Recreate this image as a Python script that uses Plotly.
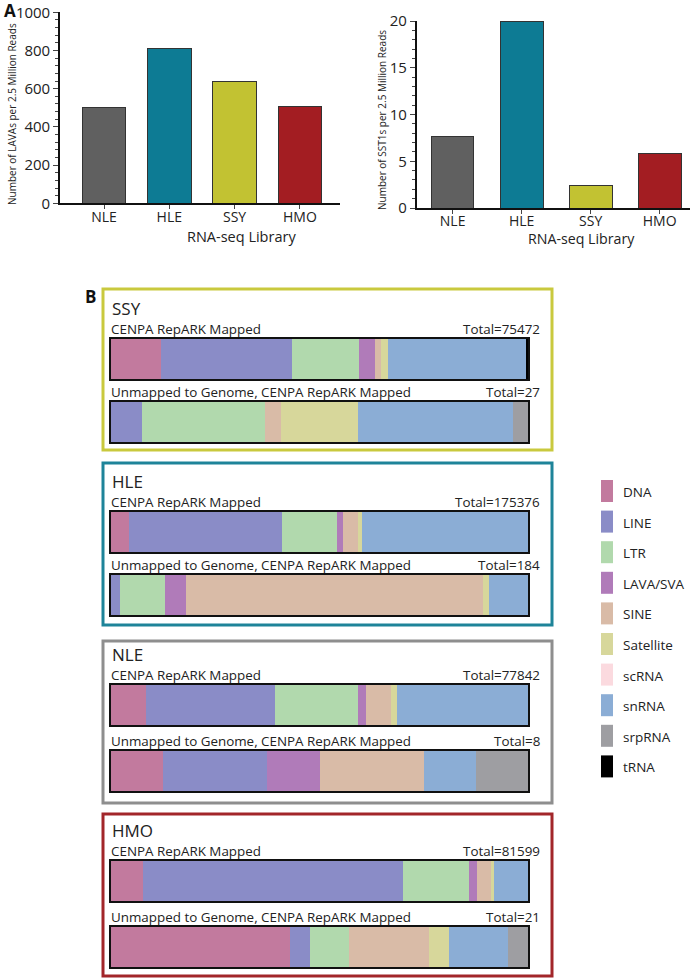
import plotly.graph_objects as go

# ---------------- data ----------------
libraries = ["NLE", "HLE", "SSY", "HMO"]
lava_per_2_5M = [501, 809, 638, 509]
sst1_per_2_5M = [7.7, 20.0, 2.4, 5.8]
library_colors = ["#606060", "#0d7b94", "#c2c232", "#a31d22"]

repeat_classes = ["DNA", "LINE", "LTR", "LAVA/SVA", "SINE", "Satellite",
                  "scRNA", "snRNA", "srpRNA", "tRNA"]
class_colors = ["#c27a9e", "#8a8cc7", "#b1d9ad", "#b07bb9", "#d9bba7",
                "#d7d79b", "#fbdadf", "#8badd5", "#9e9ea2", "#000000"]

panel_b_libraries = ["SSY", "HLE", "NLE", "HMO"]
box_colors = ["#c9c93e", "#1e8499", "#8e8e8e", "#a2262a"]
mapped_totals = [75472, 175376, 77842, 81599]
unmapped_totals = [27, 184, 8, 21]

# percent of reads per repeat class (CENPA RepARK mapped)
ssy_mapped = [12.0, 31.4, 16.0, 3.8, 1.6, 1.6, 0, 33.2, 0, 0.4]
hle_mapped = [4.2, 36.7, 13.2, 1.6, 3.6, 0.8, 0, 39.9, 0, 0]
nle_mapped = [8.5, 30.9, 19.8, 2.0, 5.9, 1.6, 0, 31.3, 0, 0]
hmo_mapped = [7.7, 62.3, 15.8, 2.0, 3.4, 0.6, 0, 8.2, 0, 0]

# counts per repeat class (unmapped to genome, CENPA RepARK mapped)
ssy_unmapped = [0, 2, 8, 0, 1, 5, 0, 10, 1, 0]
hle_unmapped = [0, 4, 20, 9, 131, 3, 0, 17, 0, 0]
nle_unmapped = [1, 2, 0, 1, 2, 0, 0, 1, 1, 0]
hmo_unmapped = [9, 1, 2, 0, 4, 1, 0, 3, 1, 0]

mapped_rows = [ssy_mapped, hle_mapped, nle_mapped, hmo_mapped]
unmapped_rows = [ssy_unmapped, hle_unmapped, nle_unmapped, hmo_unmapped]

# ---------------- layout helpers ----------------
W, H = 690, 980
FONT = "Open Sans, Lato, sans-serif"


def fx(x):
    return x / W


def fy(y):
    return 1 - y / H


fig = go.Figure()
layout = dict(
    width=W, height=H,
    margin=dict(l=0, r=0, t=0, b=0, pad=0, autoexpand=False),
    paper_bgcolor="white", plot_bgcolor="white",
    showlegend=False, barmode="stack",
    font=dict(family=FONT, color="#222"),
)
annotations = []
shapes = []

# ---------------- panel A ----------------
fig.add_trace(go.Bar(x=libraries, y=lava_per_2_5M, width=0.67,
                     marker=dict(color=library_colors, line=dict(color="#333", width=1)),
                     xaxis="x", yaxis="y"))
fig.add_trace(go.Bar(x=libraries, y=sst1_per_2_5M, width=0.62,
                     marker=dict(color=library_colors, line=dict(color="#333", width=1)),
                     xaxis="x2", yaxis="y2"))

axis_line = dict(showline=True, linecolor="#111", linewidth=1.6, showgrid=False,
                 zeroline=False, fixedrange=True, automargin=False)
layout["xaxis"] = dict(axis_line, domain=[fx(60), fx(340)], range=[-0.674, 3.614],
                       anchor="y", ticks="outside", ticklen=4, tickwidth=1.4,
                       ticklabelstandoff=-4,
                       tickfont=dict(size=14, color="#222"))
layout["yaxis"] = dict(axis_line, domain=[fy(203.3), fy(12.3)], range=[0, 1000],
                       anchor="x", tickvals=[0, 200, 400, 600, 800, 1000],
                       ticks="outside", ticklen=5, tickwidth=1.4,
                       minor=dict(dtick=40, ticks="outside", ticklen=3, tickwidth=1),
                       tickfont=dict(size=15, color="#222"))
layout["xaxis2"] = dict(axis_line, domain=[fx(416.7), fx(690)], range=[-0.52, 3.44],
                        anchor="y2", ticks="outside", ticklen=4, tickwidth=1.4,
                        ticklabelstandoff=-5,
                        tickfont=dict(size=14, color="#222"))
layout["yaxis2"] = dict(axis_line, domain=[fy(208), fy(21)], range=[0, 20],
                        anchor="x2", tickvals=[0, 5, 10, 15, 20],
                        ticks="outside", ticklen=5, tickwidth=1.4,
                        minor=dict(dtick=1, ticks="outside", ticklen=3, tickwidth=1),
                        tickfont=dict(size=15, color="#222"))

annotations += [
    dict(text="<b>A</b>", x=fx(2), y=fy(10), xanchor="left", yanchor="middle",
         font=dict(size=17, color="#111")),
    dict(text="Number of LAVAs per 2.5 Million Reads", x=fx(12), y=fy(114),
         textangle=-90, xanchor="center", yanchor="middle", font=dict(size=10)),
    dict(text="RNA-seq Library", x=fx(241), y=fy(236), xanchor="center",
         yanchor="middle", font=dict(size=14.5)),
    dict(text="Number of SST1s per 2.5 Million Reads", x=fx(382), y=fy(120),
         textangle=-90, xanchor="center", yanchor="middle", font=dict(size=10)),
    dict(text="RNA-seq Library", x=fx(581), y=fy(238.5), xanchor="center",
         yanchor="middle", font=dict(size=14.2)),
    dict(text="<b>B</b>", x=fx(83), y=fy(296), xanchor="left", yanchor="middle",
         font=dict(size=17, color="#111")),
]

# ---------------- panel B ----------------
boxes = [(289, 450), (463, 625), (641, 803), (814, 976)]
bar_tops = [(339, 402), (512, 575), (685, 751), (861, 927)]
BAR_H = 40
BAR_X0, BAR_X1 = 111, 528

ax = 3
for i, lib in enumerate(panel_b_libraries):
    top, bottom = boxes[i]
    shapes.append(dict(type="rect", xref="paper", yref="paper",
                       x0=fx(103), x1=fx(552), y0=fy(bottom), y1=fy(top),
                       line=dict(color=box_colors[i], width=3)))
    m_top, u_top = bar_tops[i]
    annotations.append(dict(text=lib, x=fx(110), y=fy(m_top - 31), xanchor="left",
                            yanchor="middle", font=dict(size=17)))
    for j, (row, total, label, ytop) in enumerate([
            (mapped_rows[i], mapped_totals[i], "CENPA RepARK Mapped", m_top),
            (unmapped_rows[i], unmapped_totals[i],
             "Unmapped to Genome, CENPA RepARK Mapped", u_top)]):
        xa, ya = f"x{ax}", f"y{ax}"
        for c, val in enumerate(row):
            if val <= 0:
                continue
            fig.add_trace(go.Bar(x=[val], y=[0], orientation="h", width=1,
                                 marker=dict(color=class_colors[c], line=dict(width=0)),
                                 name=repeat_classes[c], xaxis=xa, yaxis=ya))
        frame = dict(showline=True, mirror=True, linecolor="#111", linewidth=2,
                     showgrid=False, zeroline=False, showticklabels=False,
                     ticks="", fixedrange=True, automargin=False)
        layout[f"xaxis{ax}"] = dict(frame, domain=[fx(BAR_X0), fx(BAR_X1)],
                                    range=[0, sum(row)], anchor=ya)
        layout[f"yaxis{ax}"] = dict(frame, domain=[fy(ytop + BAR_H), fy(ytop)],
                                    range=[-0.5, 0.5], anchor=xa)
        annotations.append(dict(text=label, x=fx(109), y=fy(ytop - 10.5),
                                xanchor="left", yanchor="middle", font=dict(size=13.4)))
        annotations.append(dict(text=f"Total={total}", x=fx(542), y=fy(ytop - 10.5),
                                xanchor="right", yanchor="middle", font=dict(size=13.4)))
        ax += 1

# ---------------- legend (manual swatches) ----------------
LEG_Y0, LEG_DY = 491, 30.6
for k, (name, col) in enumerate(zip(repeat_classes, class_colors)):
    cy = LEG_Y0 + k * LEG_DY
    shapes.append(dict(type="rect", xref="paper", yref="paper",
                       x0=fx(601), x1=fx(613), y0=fy(cy + 11), y1=fy(cy - 11),
                       fillcolor=col, line=dict(width=0)))
    annotations.append(dict(text=name, x=fx(621), y=fy(cy + 1), xanchor="left",
                            yanchor="middle", font=dict(size=13.5)))

for a in annotations:
    a.setdefault("xref", "paper")
    a.setdefault("yref", "paper")
    a.setdefault("showarrow", False)

layout["annotations"] = annotations
layout["shapes"] = shapes
fig.update_layout(**layout)
fig.write_html(
    "out.html",
    config={"displayModeBar": False},
    post_script=("document.documentElement.style.margin='0';"
                 "document.documentElement.style.overflow='hidden';"
                 "document.body.style.margin='0';"
                 "document.body.style.overflow='hidden';"
                 "var gd=document.getElementById('{plot_id}');"
                 "gd.style.position='absolute';gd.style.top='0px';gd.style.left='0px';"),
)
